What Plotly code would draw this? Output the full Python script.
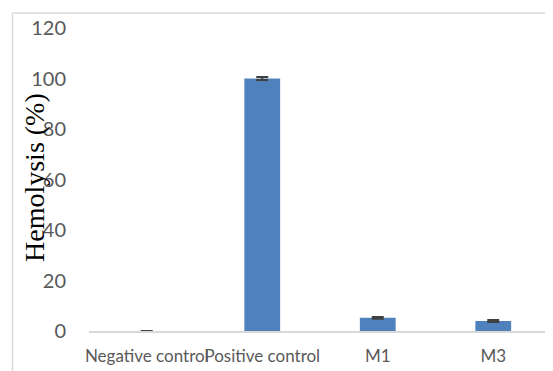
import plotly.graph_objects as go

categories = ["Negative control", "Positive control", "M1", "M3"]
hemolysis = [0.0, 100.0, 5.2, 4.0]
errors = [0.03, 0.6, 0.3, 0.4]
y_ticks = [0, 20, 40, 60, 80, 100, 120]

# page body has an 8px margin; work in figure coords (screen - 8)
W, H = 545, 363
L, R, T, B = 81, 2, 20, 40
pw = W - L - R
ph = H - T - B

fig = go.Figure()
fig.add_trace(go.Bar(
    x=categories, y=hemolysis,
    marker=dict(color="#4f81bd", line=dict(width=0)),
    width=0.31,
    error_y=dict(type="data", array=errors, visible=True,
                 color="#404040", thickness=2, width=6),
    cliponaxis=False,
))

fig.update_layout(
    width=W, height=H,
    margin=dict(l=L, r=R, t=T, b=B),
    paper_bgcolor="white", plot_bgcolor="white",
    showlegend=False,
    xaxis=dict(
        range=[-0.5, 3.5],
        showgrid=False, zeroline=False,
        showline=True, linecolor="#d9d9d9", linewidth=1.5,
        ticks="", ticklabelstandoff=9, tickangle=0, automargin=False,
        tickfont=dict(family="Lato, sans-serif", size=17, color="#595959"),
    ),
    yaxis=dict(
        range=[0, 120], tickvals=y_ticks,
        showgrid=False, zeroline=False, showline=False,
        ticks="", ticklabelstandoff=22, automargin=False,
        tickfont=dict(family="Lato, sans-serif", size=20, color="#595959"),
    ),
    annotations=[dict(
        text="Hemolysis (%)", textangle=-90,
        xref="paper", yref="paper",
        x=(26 - L) / pw, y=1 - (170 - T) / ph,
        xanchor="center", yanchor="middle", showarrow=False,
        font=dict(family="Liberation Serif, Times New Roman, serif", size=28, color="black"),
    )],
    shapes=[
        dict(type="line", xref="paper", yref="paper",
             x0=(4.5 - L) / pw, x1=(4.5 - L) / pw, y0=-B / ph - 0.01, y1=1 + (T - 5) / ph,
             line=dict(color="#d9d9d9", width=1.5)),
        dict(type="line", xref="paper", yref="paper",
             x0=(4.5 - L) / pw, x1=1 + R / pw + 0.01, y0=1 + (T - 5) / ph, y1=1 + (T - 5) / ph,
             line=dict(color="#d9d9d9", width=1.5)),
    ],
)

fig.write_html("out.html")
